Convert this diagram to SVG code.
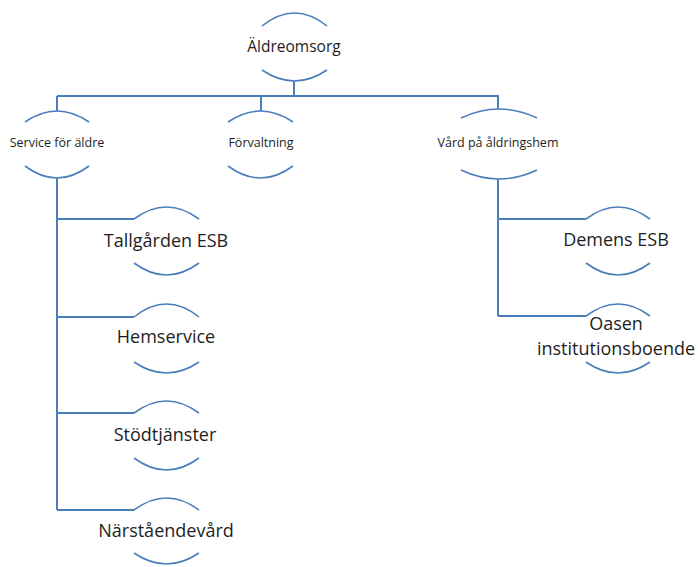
<svg xmlns="http://www.w3.org/2000/svg" width="698" height="567" viewBox="0 0 698 567">
<style>
.arc{fill:none;stroke:#4a7ebb;stroke-width:1.6}
.ln{fill:none;stroke:#4a7ebb;stroke-width:2}
text{font-family:"Open Sans","Noto Sans",sans-serif;fill:#1e1e1e;text-anchor:middle}
.t1{font-size:15.5px}
.t2{font-size:12.5px}
.t3{font-size:18px}
</style>
<rect width="698" height="567" fill="#ffffff"/>
<g id="connectors">
<path class="ln" d="M294,81 V96"/>
<path class="ln" d="M57,96 H498 V109"/>
<path class="ln" d="M57,96 V111"/>
<path class="ln" d="M261,96 V111"/>
<path class="ln" d="M57,178 V510 M57,219 H134 M57,317 H134 M57,413 H134 M57,510 H134"/>
<path class="ln" d="M498,179 V316 M498,219 H586 M498,316 H586"/>
</g>
<g id="n-aldreomsorg">
<path class="arc" d="M262,26 Q294.5,0 327,26 M262,70 Q294.5,92 327,70"/>
<text class="t1" x="294" y="52">Äldreomsorg</text>
</g>
<g id="n-service">
<path class="arc" d="M25,122 Q57,100 89,122 M25,166 Q57,190 89,166"/>
<text class="t2" x="57" y="147">Service för äldre</text>
</g>
<g id="n-forvaltning">
<path class="arc" d="M228,122 Q260.5,100 293,122 M228,166 Q260.5,190 293,166"/>
<text class="t2" x="261" y="147">Förvaltning</text>
</g>
<g id="n-vard">
<path class="arc" d="M461,118 Q499,100 537,118 M461,170 Q499,188 537,170"/>
<text class="t2" x="498" y="147">Vård på åldringshem</text>
</g>
<g id="n-tallgarden">
<path class="arc" d="M134,219 Q166.5,195 199,219 M134,263 Q166.5,287 199,263"/>
<text class="t3" x="166" y="247">Tallgården ESB</text>
</g>
<g id="n-hemservice">
<path class="arc" d="M134,317 Q166.5,291 199,317 M134,362 Q166.5,384 199,362"/>
<text class="t3" x="166" y="343">Hemservice</text>
</g>
<g id="n-stodtjanster">
<path class="arc" d="M134,413 Q166.5,389 199,413 M134,458 Q166.5,482 199,458"/>
<text class="t3" x="165" y="441">Stödtjänster</text>
</g>
<g id="n-narstaendevard">
<path class="arc" d="M134,510 Q166.5,486 199,510 M134,553 Q166.5,575 199,553"/>
<text class="t3" x="166" y="537">Närståendevård</text>
</g>
<g id="n-demens">
<path class="arc" d="M586,219 Q618,195 650,219 M586,263 Q618,287 650,263"/>
<text class="t3" x="616" y="246">Demens ESB</text>
</g>
<g id="n-oasen">
<path class="arc" d="M586,316 Q618,292 650,316 M586,362 Q618,384 650,362"/>
<text class="t3"><tspan x="616" y="330">Oasen</tspan><tspan x="616" y="355">institutionsboende</tspan></text>
</g>
</svg>
